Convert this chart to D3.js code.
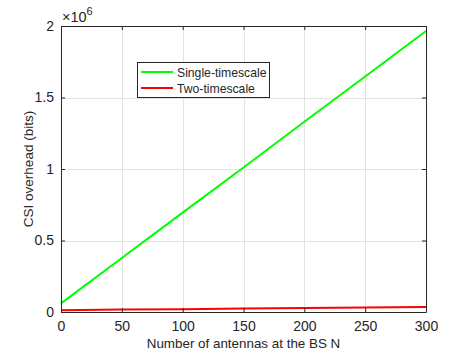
<!DOCTYPE html>
<html>
<head>
<meta charset="utf-8">
<script src="https://cdn.jsdelivr.net/npm/d3@7"></script>
<style>
  body { margin: 0; background: #fff; }
  text { font-family: "Liberation Sans", Arial, sans-serif; fill: #262626; }
</style>
</head>
<body>
<svg id="chart"></svg>
<script>
// data (y in bits)
var antennas = [0, 50, 100, 150, 200, 250, 300];
var singleTimescale = [0.060e6, 0.378e6, 0.695e6, 1.010e6, 1.330e6, 1.647e6, 1.965e6];
var twoTimescale = [0.013e6, 0.017e6, 0.020e6, 0.024e6, 0.028e6, 0.031e6, 0.035e6];
var xTicks = [0, 50, 100, 150, 200, 250, 300];
var yTicks = [0, 0.5e6, 1e6, 1.5e6, 2e6];
var yTickLabels = ["0", "0.5", "1", "1.5", "2"];
var seriesNames = ["Single-timescale", "Two-timescale"];
var seriesColors = ["#00ff00", "#ff0000"];

var W = 471, H = 353;
var margin = {top: 26, right: 45, bottom: 41, left: 61},
    width = W - margin.left - margin.right,
    height = H - margin.top - margin.bottom;

var svg = d3.select("#chart").attr("width", W).attr("height", H);
var g = svg.append("g").attr("transform", "translate(" + margin.left + "," + margin.top + ")");

var x = d3.scaleLinear().domain([0, 300]).range([0, width]);
var y = d3.scaleLinear().domain([0, 2e6]).range([height, 0]);

// grid
g.append("g").selectAll("line").data(xTicks.slice(1, -1)).enter().append("line")
  .attr("x1", function(d) { return Math.round(x(d)) + 0.5; })
  .attr("x2", function(d) { return Math.round(x(d)) + 0.5; })
  .attr("y1", 0).attr("y2", height)
  .attr("stroke", "#e3e3e3").attr("stroke-width", 1);
g.append("g").selectAll("line").data(yTicks.slice(1, -1)).enter().append("line")
  .attr("y1", function(d) { return Math.round(y(d)) + 0.5; })
  .attr("y2", function(d) { return Math.round(y(d)) + 0.5; })
  .attr("x1", 0).attr("x2", width)
  .attr("stroke", "#e3e3e3").attr("stroke-width", 1);

// lines
var line = d3.line()
  .x(function(d) { return x(d[0]); })
  .y(function(d) { return y(d[1]); });
[singleTimescale, twoTimescale].forEach(function(s, i) {
  g.append("path")
    .datum(antennas.map(function(a, j) { return [a, s[j]]; }))
    .attr("d", line)
    .attr("fill", "none")
    .attr("stroke", seriesColors[i])
    .attr("stroke-width", 2);
});

// axes (MATLAB style, ticks inside, box on)
g.append("g").attr("transform", "translate(0," + height + ")")
  .call(d3.axisBottom(x).tickValues(xTicks).tickSizeInner(-4).tickSizeOuter(0).tickPadding(9));
g.append("g")
  .call(d3.axisLeft(y).tickValues(yTicks).tickFormat(function(d, i) { return yTickLabels[i]; })
    .tickSizeInner(-4).tickSizeOuter(0).tickPadding(7));
g.append("g").call(d3.axisTop(x).tickValues(xTicks).tickSizeInner(-4).tickSizeOuter(0).tickFormat(""));
g.append("g").attr("transform", "translate(" + width + ",0)")
  .call(d3.axisRight(y).tickValues(yTicks).tickSizeInner(-4).tickSizeOuter(0).tickFormat(""));
g.selectAll(".domain, .tick line").attr("stroke", "#262626");
g.selectAll(".tick text").attr("font-size", 14).attr("fill", "#262626")
  .style("font-family", "'Liberation Sans', Arial, sans-serif");

// exponent label
var ex = g.append("text").attr("x", 1).attr("y", -4);
ex.append("tspan").attr("font-size", 14.5).text("\u00d710");
ex.append("tspan").attr("dy", -7).attr("font-size", 11).text("6");

// axis labels
g.append("text")
  .attr("x", width / 2).attr("y", height + 36)
  .attr("text-anchor", "middle").attr("font-size", 13.4)
  .text("Number of antennas at the BS N");
g.append("text")
  .attr("transform", "rotate(-90)")
  .attr("x", -height / 2).attr("y", -28)
  .attr("text-anchor", "middle").attr("font-size", 13.5)
  .text("CSI overhead (bits)");

// legend
var legend = svg.append("g").attr("transform", "translate(137,62)");
legend.append("rect").attr("x", 0.5).attr("y", 0.5).attr("width", 132).attr("height", 35)
  .attr("fill", "#fff").attr("stroke", "#262626").attr("stroke-width", 1);
seriesNames.forEach(function(n, i) {
  var ly = 10 + i * 16;
  legend.append("line").attr("x1", 4).attr("x2", 36).attr("y1", ly).attr("y2", ly)
    .attr("stroke", seriesColors[i]).attr("stroke-width", 2);
  legend.append("text").attr("x", 40).attr("y", ly + 4.5).attr("font-size", 12.2).text(n);
});
</script>
</body>
</html>
